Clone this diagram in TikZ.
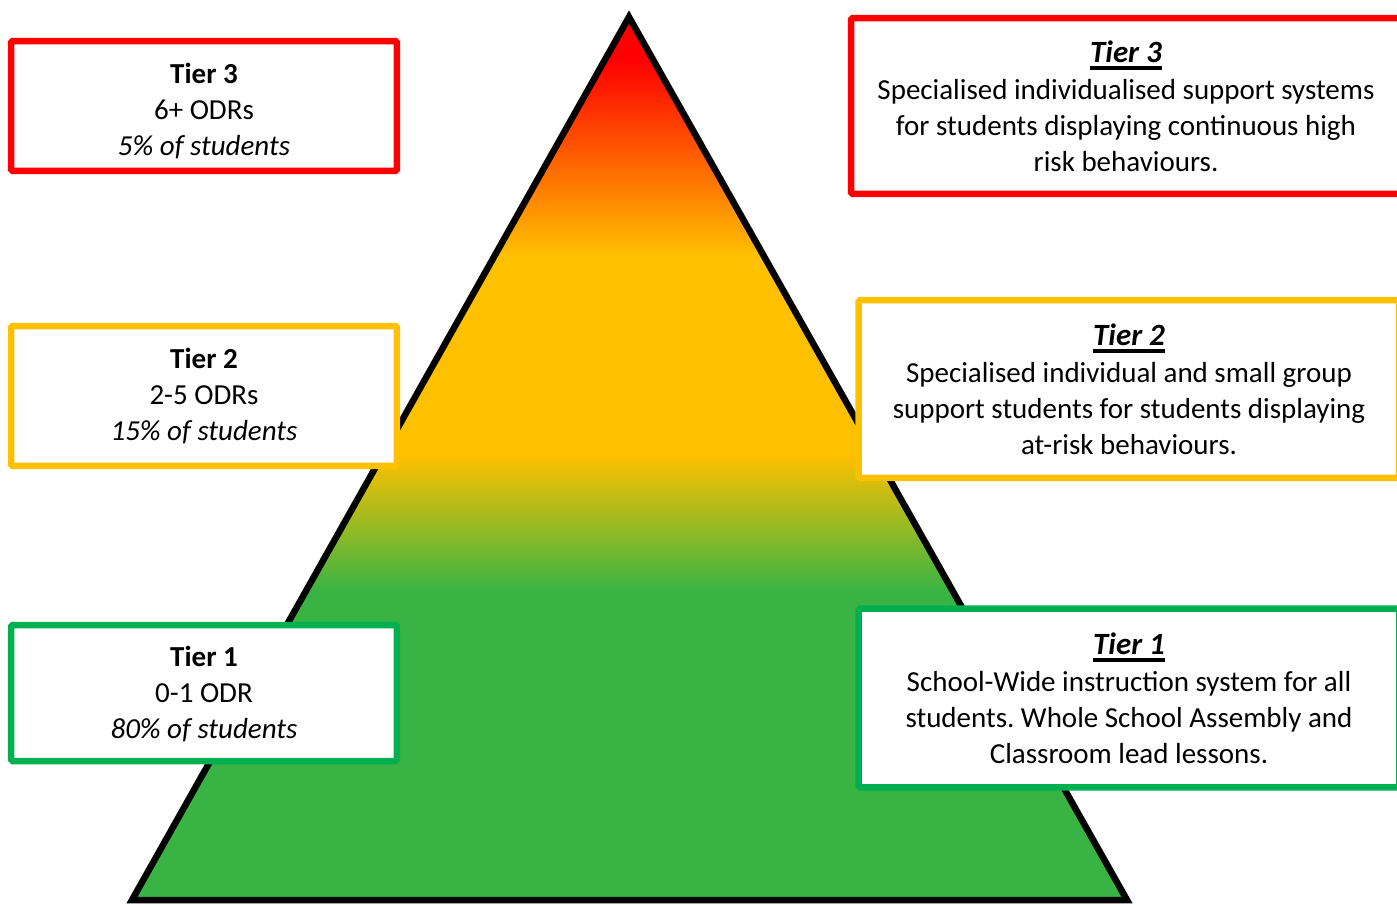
\documentclass[tikz,border=0pt]{standalone}
\usepackage{fontspec}
\setmainfont{Carlito}
\usepackage{xcolor}
\definecolor{tierred}{HTML}{FF0000}
\definecolor{tieryellow}{HTML}{FFC000}
\definecolor{tiergreen}{HTML}{00B050}
\definecolor{pyrgreen}{HTML}{39B444}
\frenchspacing
\newcommand{\tierhead}[1]{\vtop{\hbox{\fontsize{17.6}{20.4}\selectfont\textbf{\textit{#1}}}\kern2pt\hrule height 2.2pt}}
\newcommand{\tiertop}[1]{\rule{0pt}{#1}}
\tikzset{
	tierbox/.style = {draw, line width = 0.13cm, fill = white, rounded corners = 1pt, align = center, inner sep = 0pt, font = \fontsize{16.5}{20.4}\selectfont},
	countbox/.style = {tierbox, minimum width = 7.72cm},
}

\begin{document}
\begin{tikzpicture}[x = 0.02cm, y = -0.02cm]
				\useasboundingbox (0,0) rectangle (1397,904);
				
				\coordinate (apex) at (629,17);
				\coordinate (base_left) at (132,900);
				\coordinate (base_right) at (1127,900);
				
				% colour bands of the pyramid
				\begin{scope}
					\clip (apex) -- (base_left) -- (base_right) -- cycle;
					\fill[tierred] (100,0) rectangle (1160,61);
					\shade[top color = tierred, bottom color = tieryellow] (100,60) rectangle (1160,256);
					\fill[tieryellow] (100,255) rectangle (1160,456);
					\shade[top color = tieryellow, bottom color = pyrgreen] (100,455) rectangle (1160,591);
					\fill[pyrgreen] (100,590) rectangle (1160,910);
				\end{scope}
				\draw[line width = 0.13cm, line join = miter] (apex) -- (base_left) -- (base_right) -- cycle;
				
				\node[countbox, draw = tierred, minimum height = 2.6cm] at (204,106) (odr_three) {\tiertop{17.5pt}\textbf{Tier 3}\\6+ ODRs\\\textit{5\% of students}};
				\node[countbox, draw = tieryellow, minimum height = 2.8cm] at (204,396) (odr_two) {\textbf{Tier 2}\\2-5 ODRs\\\textit{15\% of students}};
				\node[countbox, draw = tiergreen, minimum height = 2.72cm] at (204,693) (odr_one) {\tiertop{12.8pt}\textbf{Tier 1}\\0-1 ODR\\\textit{80\% of students}};
				
				\node[tierbox, draw = tierred, minimum width = 11cm, minimum height = 3.52cm] at (1126,106) (support_three) {\tierhead{Tier 3}\\[1pt]Specialised individualised support systems\\for students displaying continuous high\\risk behaviours.};
				\node[tierbox, draw = tieryellow, minimum width = 10.82cm, minimum height = 3.56cm] at (1129,389) (support_two) {\tierhead{Tier 2}\\[1pt]Specialised individual and small group\\support students for students displaying\\at-risk behaviours.};
				\node[tierbox, draw = tiergreen, minimum width = 10.82cm, minimum height = 3.58cm] at (1129,698) (support_one) {\tierhead{Tier 1}\\[1pt]School-Wide instruction system for all\\students. Whole School Assembly and\\Classroom lead lessons.};
			\end{tikzpicture}
\end{document}
